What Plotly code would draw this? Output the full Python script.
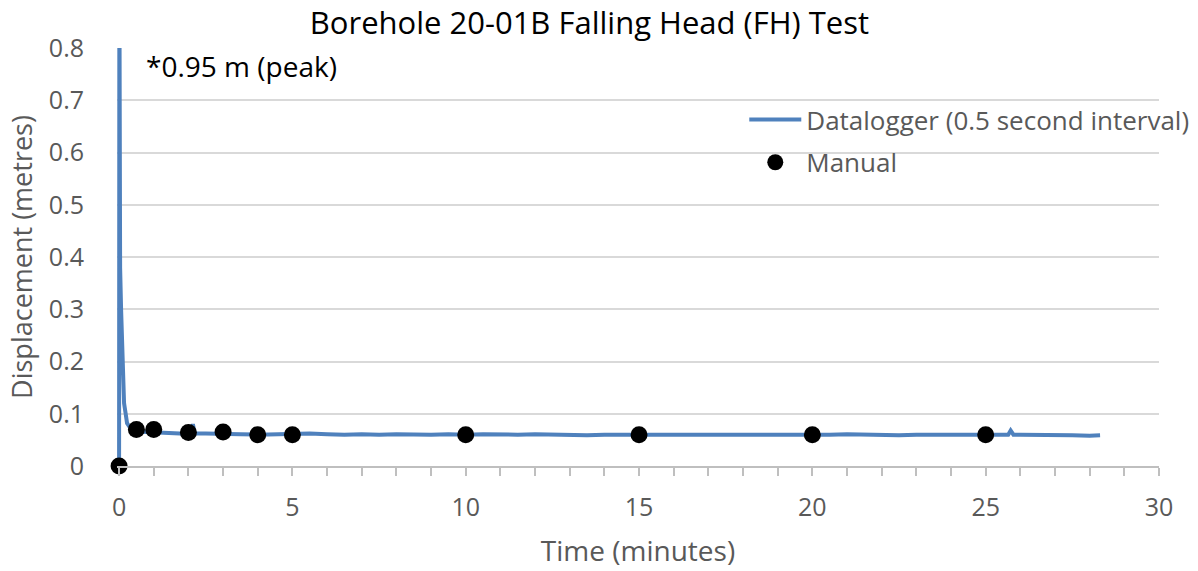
import plotly.graph_objects as go

# Datalogger record (time in minutes, displacement in metres)
logger_time = [0, 0.0083, 0.017, 0.03, 0.058, 0.087, 0.11, 0.144, 0.19, 0.23, 0.3, 0.375,
               0.5, 0.75, 1.0, 1.25, 1.5, 1.75, 2.0, 2.08, 2.13, 2.18, 2.5, 3.0, 3.5, 4.0,
               4.5, 5.0, 5.5, 6.0, 6.5, 7.0, 7.5, 8.0, 8.5, 9.0, 9.5, 10.0, 10.5, 11.0,
               11.5, 12.0, 12.5, 13.0, 13.5, 14.0, 14.5, 15.0, 15.5, 16.0, 16.5, 17.0,
               17.5, 18.0, 18.5, 19.0, 19.5, 20.0, 20.5, 21.0, 21.5, 22.0, 22.5, 23.0,
               23.5, 24.0, 24.5, 25.0, 25.5, 25.65, 25.72, 25.8, 26.0, 26.5, 27.0, 27.5,
               28.0, 28.3]
logger_disp = [0, 0.95, 0.60, 0.38, 0.30, 0.24, 0.16, 0.12, 0.10, 0.082, 0.075, 0.070,
               0.066, 0.065, 0.064, 0.063, 0.063, 0.062, 0.062, 0.063, 0.080, 0.062, 0.062, 0.062, 0.061, 0.060,
               0.061, 0.061, 0.062, 0.061, 0.060, 0.061, 0.060, 0.061, 0.060, 0.060, 0.061, 0.060, 0.061, 0.060,
               0.060, 0.061, 0.060, 0.060, 0.059, 0.060, 0.060, 0.060, 0.060, 0.059, 0.060, 0.060,
               0.059, 0.060, 0.060, 0.060, 0.060, 0.060, 0.060, 0.061, 0.060, 0.060, 0.059, 0.060,
               0.060, 0.060, 0.059, 0.060, 0.060, 0.060, 0.068, 0.060, 0.060, 0.060, 0.059, 0.059,
               0.058, 0.059]

# Manual readings
manual_time = [0, 0.5, 1, 2, 3, 4, 5, 10, 15, 20, 25]
manual_disp = [0, 0.070, 0.070, 0.064, 0.065, 0.060, 0.060, 0.060, 0.060, 0.060, 0.060]

x_ticks = [0, 5, 10, 15, 20, 25, 30]
y_ticks = [0, 0.1, 0.2, 0.3, 0.4, 0.5, 0.6, 0.7, 0.8]
y_labels = ["0", "0.1", "0.2", "0.3", "0.4", "0.5", "0.6", "0.7", "0.8"]

FONT = "Open Sans, sans-serif"
GREY = "#595959"
AXIS_GREY = "#bfbfbf"

fig = go.Figure()
fig.add_trace(go.Scatter(
    x=logger_time, y=logger_disp, mode="lines",
    name="Datalogger (0.5 second interval)", legendgroup="a",
    line=dict(color="#4f81bd", width=4),
))
fig.add_trace(go.Scatter(
    x=manual_time, y=manual_disp, mode="markers", name="Manual", legendgroup="b",
    marker=dict(color="black", size=17),
    cliponaxis=False,
))

fig.add_annotation(
    x=0.72, y=0.766, xref="x", yref="y", text="*0.95 m (peak)", showarrow=False,
    xanchor="left", yanchor="middle", font=dict(family=FONT, size=28, color="black"),
)

fig.update_layout(
    width=1198, height=571,
    margin=dict(l=117, r=39, t=48, b=105, autoexpand=False),
    paper_bgcolor="white", plot_bgcolor="white",
    font=dict(family=FONT, color=GREY),
    title=dict(text="Borehole 20-01B Falling Head (FH) Test", x=0.492, xanchor="center",
               xref="container", yref="container", y=1 - 23 / 571, yanchor="middle",
               font=dict(family=FONT, size=31, color="black")),
    showlegend=True,
    legend=dict(x=0.602, y=0.885, xanchor="left", yanchor="top",
                bgcolor="rgba(0,0,0,0)", font=dict(family=FONT, size=26, color=GREY),
                traceorder="grouped", tracegroupgap=6, itemwidth=52),
    xaxis=dict(
        range=[-0.06, 30], tickvals=x_ticks, showgrid=False, zeroline=False,
        showline=True, linecolor=AXIS_GREY, linewidth=2,
        ticks="outside", ticklen=8, tickcolor=AXIS_GREY, tickwidth=2,
        minor=dict(tick0=0, dtick=1, ticks="outside", ticklen=8, tickcolor=AXIS_GREY, tickwidth=2),
        tickfont=dict(size=25, color=GREY), ticklabelstandoff=10,
        title=dict(text="Time (minutes)", font=dict(size=28, color=GREY), standoff=19),
    ),
    yaxis=dict(
        range=[0, 0.8], tickvals=y_ticks, ticktext=y_labels, showgrid=True,
        gridcolor="#d9d9d9", gridwidth=2, zeroline=False, showline=False,
        ticks="", tickfont=dict(size=25, color=GREY), ticklabelstandoff=32,
        title=dict(text="Displacement (metres)", font=dict(size=27, color=GREY), standoff=8),
    ),
)

fig.write_html("out.html")
